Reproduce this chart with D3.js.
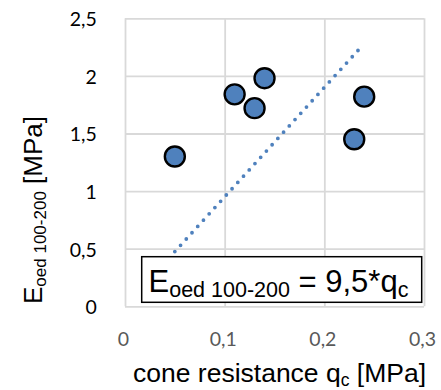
<!DOCTYPE html>
<html><head><meta charset="utf-8">
<script src="https://cdn.jsdelivr.net/npm/d3@7"></script>
<style>
html,body{margin:0;padding:0;background:#fff;}
svg{display:block;}
</style></head>
<body>
<svg id="chart" width="441" height="390"></svg>
<script>
const qc = [0.05, 0.11, 0.13, 0.14, 0.23, 0.24];
const eoed = [1.30, 1.84, 1.72, 1.98, 1.45, 1.82];
const trendX = [0.05, 0.235];
const trendSlope = 9.5;
const xTicks = [0, 0.1, 0.2, 0.3];
const yTicks = [0, 0.5, 1, 1.5, 2, 2.5];

const svg = d3.select("#chart");
const L = 125, R = 424, T = 18.3, B = 306.3;
const x = d3.scaleLinear().domain([0, 0.3]).range([L, R]);
const y = d3.scaleLinear().domain([0, 2.5]).range([B, T]);
const fmt = v => String(v).replace(".", ",");

const gridColor = "#d9d9d9";
const tickFont = "Lato, 'Open Sans', sans-serif";
const textFont = "'Liberation Sans', Arial, sans-serif";

// x axis with vertical grid
const gx = svg.append("g").attr("transform", `translate(0,${B})`)
  .call(d3.axisBottom(x).tickValues(xTicks).tickFormat(fmt).tickSize(-(B - T)).tickPadding(25.6));
gx.select(".domain").remove();
gx.selectAll("line").attr("stroke", gridColor).attr("stroke-width", 1.8);
gx.selectAll("text").attr("font-family", tickFont).attr("font-size", 19.5)
  .attr("fill", "#595959").attr("dx", -2);

// y axis with horizontal grid
const gy = svg.append("g").attr("transform", `translate(${L},0)`)
  .call(d3.axisLeft(y).tickValues(yTicks).tickFormat(fmt).tickSize(-(R - L)).tickPadding(28.3));
gy.select(".domain").remove();
gy.selectAll("line").attr("stroke", gridColor).attr("stroke-width", 1.8);
gy.selectAll("text").attr("font-family", tickFont).attr("font-size", 19.5)
  .attr("fill", "#000").attr("dy", "0.38em");

// trendline (dotted)
svg.append("path")
  .datum(trendX.map(q => [q, trendSlope * q]))
  .attr("d", d3.line().x(d => x(d[0])).y(d => y(d[1])))
  .attr("fill", "none").attr("stroke", "#4f81bd").attr("stroke-width", 3.8)
  .attr("stroke-linecap", "round").attr("stroke-dasharray", "0 8.5");

// points
svg.append("g").selectAll("circle").data(qc.map((q, i) => [q, eoed[i]])).join("circle")
  .attr("cx", d => x(d[0])).attr("cy", d => y(d[1])).attr("r", 10)
  .attr("fill", "#4f81bd").attr("stroke", "#000").attr("stroke-width", 2.4);

// legend / equation box
svg.append("rect").attr("x", 141.7).attr("y", 256.7).attr("width", 280).attr("height", 45.6)
  .attr("fill", "#fff").attr("stroke", "#000").attr("stroke-width", 1.5);
const eq = svg.append("text").attr("x", 148.5).attr("y", 291.7)
  .attr("font-family", textFont).attr("font-size", 31).attr("fill", "#000");
eq.append("tspan").text("E");
eq.append("tspan").attr("font-size", 21.5).attr("dy", 5).text("oed 100-200");
eq.append("tspan").attr("dy", -5).text(" = 9,5*q");
eq.append("tspan").attr("font-size", 21.5).attr("dy", 5).text("c");

// x title
const xt = svg.append("text").attr("x", 133).attr("y", 381.7)
  .attr("font-family", textFont).attr("font-size", 26.5).attr("fill", "#000");
xt.append("tspan").text("cone resistance q");
xt.append("tspan").attr("font-size", 17.5).attr("dy", 4).text("c");
xt.append("tspan").attr("dy", -4).text(" [MPa]");

// y title
const yt = svg.append("text").attr("transform", "translate(42,210) rotate(-90)")
  .attr("text-anchor", "middle")
  .attr("font-family", textFont).attr("font-size", 26).attr("fill", "#000");
yt.append("tspan").text("E");
yt.append("tspan").attr("font-size", 17).attr("dy", 4).text("oed 100-200");
yt.append("tspan").attr("dy", -4).text(" [MPa]");
</script>
</body></html>
